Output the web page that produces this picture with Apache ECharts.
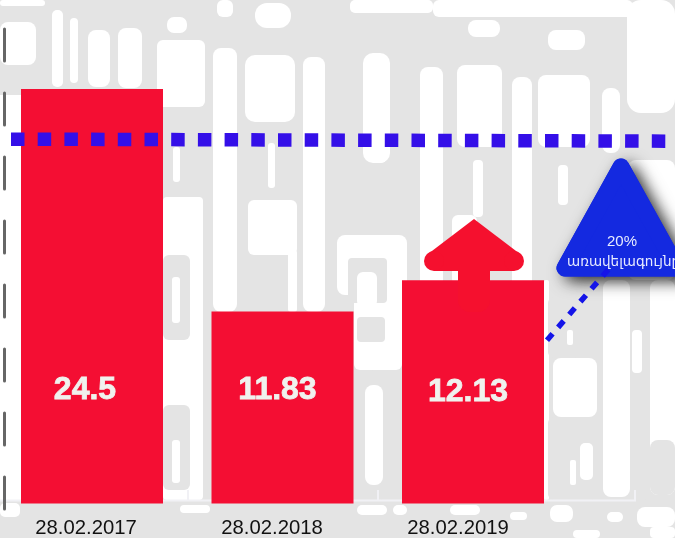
<!DOCTYPE html>
<html>
<head>
<meta charset="utf-8">
<style>
  html, body { margin: 0; padding: 0; background: #fff; overflow: hidden; }
  #chart { width: 675px; height: 538px; }
</style>
<script src="https://cdn.jsdelivr.net/npm/echarts@6/dist/echarts.min.js"></script>
</head>
<body>
<div id="chart"></div>
<script>
const categories = ['28.02.2017', '28.02.2018', '28.02.2019'];
// printed numbers on the bars
const barLabels = ['24.5', '11.83', '12.13'];
// bar heights as drawn: the source picture is not proportional to its own labels
const barHeights = [24.5, 11.35, 13.2];
// dotted reference line, x in page-wide units, y on the 0-30 overlay axis
const refLine = [[11, 21.8], [675, 21.68]];
// dotted connector going from the third bar up to the callout
const connector = [[547, 9.95], [611, 14.3]];
const labelOffsets = [[-7, -92], [-5, -92], [-5, -90]];

// washed out background texture, drawn in layers over a grey sheet: [x, y, w, h, radius]
const bgWhite = [
  [0, 0, 45, 6, 3], [0, 22, 36, 43, 8], [0, 95, 21, 405, 0], [52, 10, 11, 77, 5], [70, 18, 8, 65, 4],
  [88, 30, 22, 57, 8], [118, 28, 24, 60, 8], [157, 40, 48, 67, 6], [167, 17, 20, 16, 7], [217, 0, 16, 17, 6],
  [163, 197, 40, 303, 4], [213, 48, 24, 264, 8], [245, 55, 50, 67, 10], [255, 3, 36, 25, 12],
  [248, 200, 49, 55, 6], [288, 250, 9, 62, 3], [303, 57, 22, 255, 8], [363, 53, 27, 110, 10],
  [350, 0, 83, 13, 5], [433, 0, 200, 17, 6], [420, 67, 23, 233, 8], [457, 65, 45, 82, 8], [452, 215, 25, 70, 6],
  [473, 160, 10, 57, 4], [512, 77, 20, 213, 8], [468, 20, 32, 17, 8], [538, 75, 52, 72, 8], [548, 30, 37, 20, 8],
  [602, 88, 18, 65, 8], [627, 0, 48, 113, 14], [628, 160, 47, 120, 8], [337, 235, 70, 60, 8],
  [354, 280, 48, 90, 6], [553, 358, 44, 59, 8], [603, 280, 27, 217, 8], [650, 280, 25, 215, 8],
  [544, 280, 5, 220, 2], [370, 140, 17, 23, 6], [173, 147, 7, 35, 3], [268, 143, 7, 45, 3],
  [558, 165, 10, 40, 4],
  // lower band blobs
  [180, 505, 30, 8, 4], [357, 505, 30, 10, 5], [393, 505, 14, 10, 5], [450, 505, 30, 10, 5], [510, 512, 17, 8, 4],
  [550, 505, 23, 17, 7], [607, 512, 16, 10, 5], [637, 507, 38, 20, 8], [573, 530, 27, 8, 4], [650, 527, 25, 11, 4],
  [0, 503, 20, 14, 5]
];
const bgGrey = [
  [163, 255, 27, 85, 6], [163, 405, 27, 85, 6], [203, 197, 9, 303, 0], [357, 317, 28, 25, 4],
  [357, 370, 40, 130, 16], [548, 297, 32, 61, 6], [548, 417, 49, 83, 6], [630, 280, 20, 220, 6],
  [348, 258, 39, 45, 4], [650, 440, 25, 55, 8]
];
const bgWhiteTop = [
  [172, 277, 8, 46, 3], [172, 440, 8, 43, 3], [357, 272, 20, 35, 6], [365, 385, 18, 100, 8],
  [567, 330, 6, 15, 2], [580, 443, 13, 37, 5], [570, 460, 6, 25, 2], [632, 330, 10, 43, 4]
];

function bgRects(list, fill, z) {
  return list.map(function (h) {
    return {
      type: 'rect', z: z, silent: true,
      shape: { x: h[0], y: h[1], width: h[2], height: h[3], r: h[4] },
      style: { fill: fill }
    };
  });
}

const bgElements = [{
  type: 'rect', z: -10, silent: true,
  shape: { x: 0, y: 0, width: 675, height: 538 },
  style: { fill: '#e4e4e4' }
}].concat(bgRects(bgWhite, '#ffffff', -9), bgRects(bgGrey, '#e4e4e4', -8), bgRects(bgWhiteTop, '#ffffff', -7));

const red = '#f40e33';
const arrowRed = '#f5102e';
const calloutBlue = '#1429e0';
const triPoints = [[621, 167], [565, 268], [677, 268]];

const chart = echarts.init(document.getElementById('chart'), null, { renderer: 'canvas' });
chart.setOption({
  animation: false,
  backgroundColor: '#fff',
  grid: [
    { left: 92, width: 381, top: 4.4, height: 499.2 },
    { left: 0, right: 0, top: 0, height: 509 },
    { left: 86, width: 372, top: 0, height: 510 }
  ],
  xAxis: [
    { type: 'category', gridIndex: 0, data: categories, boundaryGap: false, axisLine: { show: false }, axisTick: { show: false }, axisLabel: { show: false } },
    { type: 'value', gridIndex: 1, min: 0, max: 675, show: false },
    {
      type: 'category', gridIndex: 2, data: categories, boundaryGap: false,
      axisLine: { show: false }, axisTick: { show: false },
      axisLabel: { color: '#111', fontSize: 20.3, fontFamily: 'Liberation Sans', margin: 8, interval: 0 }
    }
  ],
  yAxis: [
    { type: 'value', gridIndex: 0, min: 0, max: 29.5, show: false },
    {
      type: 'value', gridIndex: 1, min: 0, max: 30, offset: -4,
      splitLine: { show: false }, axisTick: { show: false }, axisLabel: { show: false },
      axisLine: { show: true, lineStyle: { color: '#666', width: 3, type: [32, 32] } }
    },
    { type: 'value', gridIndex: 2, show: false }
  ],
  series: [
    {
      type: 'bar', xAxisIndex: 0, yAxisIndex: 0, barWidth: 142, z: 2, clip: false,
      itemStyle: { color: red },
      data: barHeights.map(function (v, i) {
        return {
          value: v,
          label: {
            show: true, position: 'insideBottom', offset: labelOffsets[i],
            formatter: barLabels[i], color: '#f0f2ee', fontSize: 32, fontWeight: 'bold',
            fontFamily: 'Liberation Sans', textBorderColor: '#f0f2ee', textBorderWidth: 0.8
          }
        };
      })
    },
    {
      type: 'line', xAxisIndex: 1, yAxisIndex: 1, data: refLine, symbol: 'none', z: 5,
      lineStyle: { color: '#340fe8', width: 13.5, type: [13.5, 13.2] }
    },
    {
      type: 'line', xAxisIndex: 1, yAxisIndex: 1, data: connector, symbol: 'none', z: 12,
      lineStyle: { color: '#1414e8', width: 5.5, type: [8.5, 8.5] }
    }
  ],
  graphic: bgElements.concat([
    { type: 'polyline', z: -5, silent: true, shape: { points: [[0, 500.5], [635, 500.5], [635, 490]] }, style: { stroke: '#f1f1f5', lineWidth: 2, fill: null } },
    { type: 'line', z: -5, silent: true, shape: { x1: 378, y1: 490, x2: 378, y2: 500 }, style: { stroke: '#f1f1f5', lineWidth: 2 } },
    { type: 'line', z: -5, silent: true, shape: { x1: 188, y1: 490, x2: 188, y2: 500 }, style: { stroke: '#f1f1f5', lineWidth: 2 } },
    // up arrow on the last bar
    { type: 'rect', z: 10, silent: true, shape: { x: 458, y: 262, width: 32, height: 50, r: [0, 0, 12, 12] }, style: { fill: arrowRed } },
    { type: 'polygon', z: 10, silent: true, shape: { points: [[474, 219], [428, 254], [434, 271], [514, 271], [520, 254]] }, style: { fill: arrowRed } },
    { type: 'circle', z: 10, silent: true, shape: { cx: 434, cy: 261, r: 10 }, style: { fill: arrowRed } },
    { type: 'circle', z: 10, silent: true, shape: { cx: 514, cy: 261, r: 10 }, style: { fill: arrowRed } },
    // callout triangle, first copy only casts the shadow
    {
      type: 'polygon', z: 10, silent: true, shape: { points: triPoints },
      style: { fill: calloutBlue, stroke: calloutBlue, lineWidth: 17, lineJoin: 'round', shadowColor: 'rgba(0,0,0,0.7)', shadowBlur: 16, shadowOffsetX: 7, shadowOffsetY: 5 }
    },
    {
      type: 'polygon', z: 11, silent: true, shape: { points: triPoints },
      style: { fill: calloutBlue, stroke: calloutBlue, lineWidth: 17, lineJoin: 'round' }
    },
    { type: 'text', z: 13, silent: true, x: 622, y: 234, style: { text: '20%', fill: '#e8ecff', fontSize: 15, fontFamily: 'Liberation Sans', textAlign: 'center' } },
    { type: 'text', z: 13, silent: true, x: 567, y: 255, style: { text: 'առավելագույնը', fill: '#e8ecff', fontSize: 13.5, fontFamily: 'DejaVu Sans' } }
  ])
});
</script>
</body>
</html>
